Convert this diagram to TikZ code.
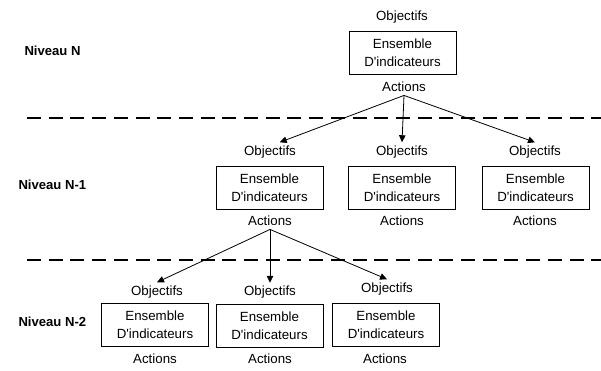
\documentclass[tikz,border=0pt]{standalone}
\usepackage{fontspec}
\setmainfont{Liberation Sans}
\usetikzlibrary{arrows.meta}

\begin{document}
\begin{tikzpicture}[x=1pt,y=-1pt,
  every node/.style={font=\fontsize{13.3}{17.5}\selectfont},
  ensemble/.style={draw,line width=0.8pt,minimum width=107pt,minimum height=43pt,align=center,inner sep=0pt},
  niveau/.style={anchor=west,font=\fontsize{13.1}{17.5}\selectfont\bfseries},
  separation/.style={line width=1.6pt,dash pattern=on 14pt off 7.7pt},
  lien/.style={line width=0.8pt,-{Triangle[length=7pt,width=6.5pt]}}]
\useasboundingbox (0,0) rectangle (601,370);

% niveau N
\node[niveau] (nivN) at (21,51) {Niveau N};
\node (objN) at (402,17) {Objectifs};
\node[ensemble] (indN) at (402.5,52.5) {Ensemble\\D\textquotesingle indicateurs};
\node (actN) at (404,87) {Actions};

\coordinate (sepNa) at (27,118);
\coordinate (sepNb) at (601,118);
\draw[separation] (sepNa) -- (sepNb);

% niveau N-1
\node[niveau] (nivNa) at (15,185) {Niveau N-1};
\node (objA) at (270,152) {Objectifs};
\node (objB) at (402,152) {Objectifs};
\node (objC) at (535,152) {Objectifs};
\node[ensemble] (indA) at (269.5,187.5) {Ensemble\\D\textquotesingle indicateurs};
\node[ensemble] (indB) at (402,187.5) {Ensemble\\D\textquotesingle indicateurs};
\node[ensemble] (indC) at (535.5,187.5) {Ensemble\\D\textquotesingle indicateurs};
\node (actA) at (270,221) {Actions};
\node (actB) at (402,221) {Actions};
\node (actC) at (535,221) {Actions};

\draw[lien] (actN.south) -- (objA.45);
\draw[lien] (actN.south) -- (objB.north);
\draw[lien] (actN.south) -- (objC.north);

\coordinate (sepNAa) at (27,260);
\coordinate (sepNAb) at (601,260);
\draw[separation] (sepNAa) -- (sepNAb);

% niveau N-2
\node[niveau] (nivNb) at (15,322) {Niveau N-2};
\node (objAa) at (157,292) {Objectifs};
\node (objAb) at (270,292.5) {Objectifs};
\node (objAc) at (387,289) {Objectifs};
\node[ensemble] (indAa) at (155,324.5) {Ensemble\\D\textquotesingle indicateurs};
\node[ensemble] (indAb) at (269.5,325.5) {Ensemble\\D\textquotesingle indicateurs};
\node[ensemble] (indAc) at (386,324.5) {Ensemble\\D\textquotesingle indicateurs};
\node (actAa) at (155,359) {Actions};
\node (actAb) at (270,359) {Actions};
\node (actAc) at (385,359) {Actions};

\draw[lien] (actA.south) -- (objAa.north);
\draw[lien] (actA.south) -- (objAb.north);
\draw[lien] (actA.south) -- (objAc.north);
\end{tikzpicture}
\end{document}
